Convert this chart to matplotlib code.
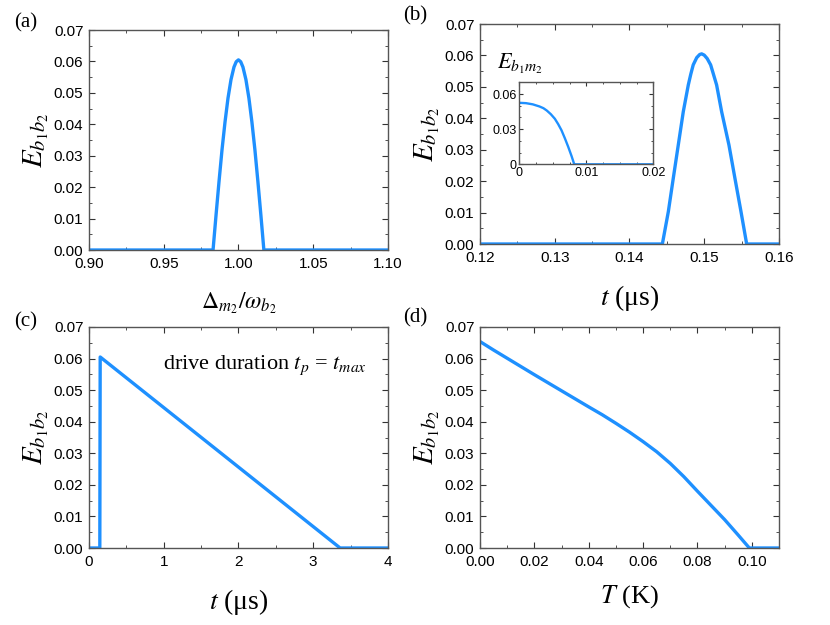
import matplotlib
matplotlib.use("Agg")
import matplotlib.pyplot as plt
from matplotlib.ticker import MultipleLocator, FuncFormatter

plt.rcParams['mathtext.fontset'] = 'stix'
plt.rcParams['font.family'] = ['Liberation Sans', 'DejaVu Sans']

# (a) entanglement vs detuning
a_x = [0.900, 0.983, 0.985, 0.987, 0.989, 0.991, 0.993, 0.995, 0.997, 0.9985, 1.000,
       1.0015, 1.003, 1.005, 1.007, 1.009, 1.011, 1.013, 1.015, 1.017, 1.100]
a_y = [0, 0, 0.0111, 0.0218, 0.0319, 0.0407, 0.0483, 0.0542, 0.0582, 0.0599, 0.0605,
       0.0599, 0.0582, 0.0542, 0.0483, 0.0407, 0.0319, 0.0218, 0.0111, 0, 0]

# (b) entanglement vs time
b_x = [0.120, 0.1444, 0.1452, 0.14586, 0.14653, 0.1472, 0.14787, 0.1482, 0.14853,
       0.1490, 0.1494, 0.14966, 0.1500, 0.1504, 0.15086, 0.1512, 0.15166, 0.15233,
       0.15331, 0.15411, 0.15492, 0.15568, 0.160]
b_y = [0, 0, 0.0103, 0.0209, 0.0315, 0.0421, 0.0506, 0.0540, 0.0570,
       0.0593, 0.0603, 0.0605, 0.0601, 0.0590, 0.0570, 0.0543, 0.0506, 0.0421,
       0.0315, 0.0209, 0.0103, 0, 0]

# (b) inset: E_b1m2 vs time
in_x = [0, 0.001, 0.002, 0.003, 0.0036, 0.0041, 0.0047, 0.0053, 0.0058, 0.0063,
        0.0068, 0.0073, 0.0078, 0.0082, 0.02]
in_y = [0.0525, 0.0522, 0.0512, 0.0494, 0.0479, 0.0459, 0.0428, 0.0389, 0.0343, 0.0290,
        0.0222, 0.0149, 0.0070, 0, 0]

# (c) long drive duration
c_x = [0, 0.145, 0.15, 3.36, 4.0]
c_y = [0, 0, 0.0605, 0, 0]

# (d) entanglement vs temperature
d_x = [0, 0.005, 0.01, 0.02, 0.03, 0.04, 0.045, 0.05, 0.055, 0.06, 0.065, 0.07,
       0.075, 0.08, 0.085, 0.09, 0.095, 0.0991, 0.11]
d_y = [0.0654, 0.0627, 0.0601, 0.0549, 0.0498, 0.0447, 0.0422, 0.0395, 0.0367, 0.0337,
       0.0305, 0.0268, 0.0226, 0.0180, 0.0135, 0.0090, 0.0041, 0, 0]

blue = '#1e90ff'
serif = 'Liberation Serif'
ylab = r'$E_{b_1b_2}$'


def style(ax, xmaj, xmin, fmt_x):
    ax.set_ylim(0, 0.07)
    ax.yaxis.set_major_locator(MultipleLocator(0.01))
    ax.yaxis.set_minor_locator(MultipleLocator(0.005))
    ax.xaxis.set_major_locator(MultipleLocator(xmaj))
    ax.xaxis.set_minor_locator(MultipleLocator(xmin))
    ax.yaxis.set_major_formatter(FuncFormatter(lambda v, p: f'{v:.2f}'))
    ax.xaxis.set_major_formatter(FuncFormatter(fmt_x))
    ax.tick_params(which='both', direction='in', top=True, right=True,
                   labelsize=11, color='#333333')
    ax.tick_params(axis='y', pad=4)
    ax.tick_params(axis='x', pad=5)
    ax.tick_params(which='major', length=4)
    ax.tick_params(which='minor', length=2)
    for s in ax.spines.values():
        s.set_color('#555555')
        s.set_linewidth(1)
    ax.set_ylabel(ylab, fontsize=21, labelpad=2)


fig = plt.figure(figsize=(8.3, 6.25), dpi=100)
ax_a = fig.add_axes([0.1072, 0.600, 0.3602, 0.352])
ax_b = fig.add_axes([0.5783, 0.6096, 0.3602, 0.352])
ax_c = fig.add_axes([0.1072, 0.1232, 0.3602, 0.3536])
ax_d = fig.add_axes([0.5783, 0.1232, 0.3602, 0.3536])

ax_a.plot(a_x, a_y, color=blue, lw=2.4)
ax_a.set_xlim(0.90, 1.10)
style(ax_a, 0.05, 0.025, lambda v, p: f'{v:.2f}')
ax_a.set_xlabel(r'$\Delta_{m_2}/\omega_{b_2}$', fontsize=17, labelpad=14)

ax_b.plot(b_x, b_y, color=blue, lw=2.4)
ax_b.set_xlim(0.12, 0.16)
style(ax_b, 0.01, 0.005, lambda v, p: f'{v:.2f}')
ax_b.set_xlabel(r'$t$ (μs)', fontsize=20, family=serif, labelpad=13)

ax_c.plot(c_x, c_y, color=blue, lw=2.4)
ax_c.set_xlim(0, 4)
style(ax_c, 1, 0.5, lambda v, p: f'{v:.0f}')
ax_c.set_xlabel(r'$t$ (μs)', fontsize=20, family=serif, labelpad=13)
ax_c.text(0.93, 0.828, r'drive duration $t_p$ = $t_{max}$', transform=ax_c.transAxes,
          ha='right', va='center', fontsize=16, family=serif)

ax_d.plot(d_x, d_y, color=blue, lw=2.4)
ax_d.set_xlim(0, 0.11)
style(ax_d, 0.02, 0.01, lambda v, p: f'{v:.2f}')
ax_d.set_xlabel(r'$T$ (K)', fontsize=19, family=serif, labelpad=10)

# inset
ax_in = fig.add_axes([0.6257, 0.7371, 0.1614, 0.1312])
ax_in.plot(in_x, in_y, color=blue, lw=1.7)
ax_in.set_xlim(0, 0.02)
ax_in.set_ylim(0, 0.07)
ax_in.xaxis.set_major_locator(MultipleLocator(0.01))
ax_in.xaxis.set_minor_locator(MultipleLocator(0.0025))
ax_in.yaxis.set_major_locator(MultipleLocator(0.03))
ax_in.yaxis.set_minor_locator(MultipleLocator(0.01))
ax_in.xaxis.set_major_formatter(FuncFormatter(lambda v, p: f'{round(v, 4):g}'))
ax_in.yaxis.set_major_formatter(FuncFormatter(lambda v, p: f'{round(v, 4):g}'))
ax_in.tick_params(which='both', direction='in', top=True, right=True,
                  labelsize=9, color='#333333', pad=2)
ax_in.tick_params(which='major', length=3)
ax_in.tick_params(which='minor', length=1.5)
for s in ax_in.spines.values():
    s.set_color('#555555')
    s.set_linewidth(1)
fig.text(497 / 830, 1 - 64 / 625, r'$E_{b_1m_2}$', fontsize=16, ha='left', va='center')

# panel labels
for lbl, x, y in [('(a)', 14, 23), ('(b)', 403, 16), ('(c)', 14, 322), ('(d)', 403, 318)]:
    fig.text(x / 830, 1 - y / 625, lbl, fontsize=15, family=serif, ha='left', va='center')

fig.savefig('out.png', dpi=100)
